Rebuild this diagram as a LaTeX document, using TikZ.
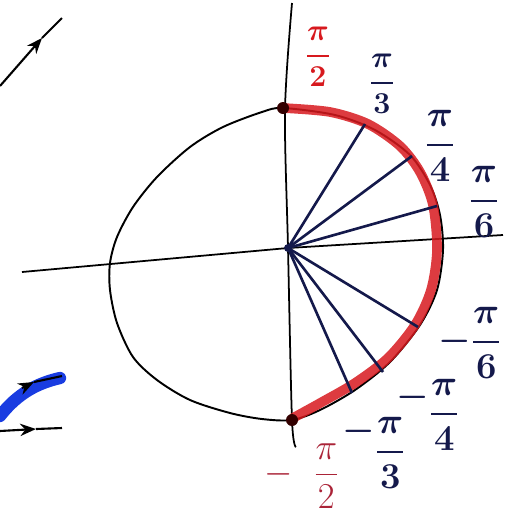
\documentclass[tikz,border=0pt]{standalone}
\usepackage{amsmath}
\usetikzlibrary{arrows.meta}

\definecolor{pen}{RGB}{20,25,75}
\definecolor{redpen}{RGB}{215,25,30}
\definecolor{darkred}{RGB}{170,35,55}
\definecolor{bluepen}{RGB}{25,60,225}

\begin{document}
\begin{tikzpicture}[x=0.02cm, y=-0.02cm,
    ray/.style={pen, line width=1.5pt},
    lbl/.style={pen, inner sep=0pt},
    tip/.style={-{Stealth[length=9pt, width=7pt]}}]
  \useasboundingbox (0,0) rectangle (526,514);

  % points on the circle (pixel coordinates)
  \coordinate (O) at (288,248);
  \coordinate (top) at (283,108);
  \coordinate (bot) at (292,420);
  \coordinate (p3) at (365,124);
  \coordinate (p4) at (412,156);
  \coordinate (p6) at (437,206);
  \coordinate (m6) at (418,327);
  \coordinate (m4) at (383,372);
  \coordinate (m3) at (352,393);

  % axes
  \draw[line width=1pt] plot[smooth] coordinates {(292,3) (285,110) (288,248) (292,420) (296,447)};
  \draw[line width=1pt] (22,272) -- (O) -- (503,235);

  % circle
  \draw[line width=1.1pt] plot[smooth cycle] coordinates {(283,108) (335,115) (375,130) (410,155)
    (430,185) (440,215) (443,250) (437,290) (420,325) (390,362) (355,390) (320,410) (292,420)
    (262,419) (230,413) (190,400) (157,380) (133,357) (117,323) (110,290) (110,263) (117,237)
    (133,207) (157,177) (190,147) (223,127) (262,112)};

  % red half
  \draw[redpen, line width=5.5pt, opacity=0.85, line cap=round] plot[smooth] coordinates {(283,108)
    (330,112) (368,124) (400,146) (420,172) (433,205) (437,250) (431,290) (415,325) (388,358)
    (355,383) (322,402) (293,418)};
  \fill[black!80!red] (top) circle (6);
  \fill[black!80!red] (bot) circle (6);

  % rays
  \foreach \pt in {p3, p4, p6, m6, m4, m3}
    \draw[ray] (O) -- (\pt);
  \fill[pen] (O) circle (4);

  % labels
  \node[lbl, redpen, font=\boldmath\LARGE] (lp2) at (318,57) {$\dfrac{\pi}{2}$};
  \node[lbl, font=\boldmath\LARGE] (lp3) at (382,84) {$\dfrac{\pi}{3}$};
  \node[lbl, font=\boldmath\huge] (lp4) at (440,146) {$\dfrac{\pi}{4}$};
  \node[lbl, font=\boldmath\huge] (lp6) at (484,202) {$\dfrac{\pi}{6}$};
  \node[lbl, font=\boldmath\huge] (lm6) at (470,343) {$-\dfrac{\pi}{6}$};
  \node[lbl, font=\boldmath\huge] (lm4) at (428,415) {$\raisebox{0.45em}{$-$}\dfrac{\pi}{4}$};
  \node[lbl, font=\boldmath\huge] (lm3) at (374,453) {$\raisebox{0.55em}{$-$}\dfrac{\pi}{3}$};
  \node[lbl, darkred, font=\huge] (lm2) at (302,476) {$-\;\;\dfrac{\pi}{2}$};

  % arrows cut off at the left edge
  \coordinate (a1) at (0,86);
  \coordinate (a2) at (42,38);
  \coordinate (a3) at (62,18);
  \draw[line width=1.2pt, tip] (a1) -- (a2);
  \draw[line width=1.2pt] (a2) -- (a3);

  \draw[bluepen, line width=7pt, line cap=round] (0,416) .. controls (18,393) and (38,383) .. (60,378);
  \draw[line width=1.2pt, tip] (22,388) -- (34,382);
  \draw[line width=1.2pt] (34,382) -- (62,376);

  \coordinate (b1) at (0,431);
  \coordinate (b2) at (36,429);
  \coordinate (b3) at (62,428);
  \draw[line width=1.2pt, tip] (b1) -- (b2);
  \draw[line width=1.2pt] (b2) -- (b3);
\end{tikzpicture}
\end{document}
